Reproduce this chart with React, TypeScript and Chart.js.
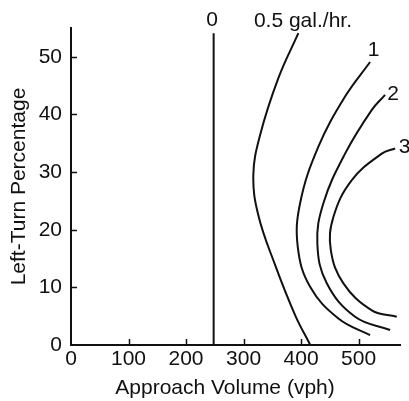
import React, { useEffect, useRef } from "react";
import { Chart, registerables } from "chart.js";

Chart.register(...registerables);

const INK = "#111111";
const FONT_FAMILY = '"Liberation Sans", Arial, Helvetica, sans-serif';

// Axis ticks
const xTicks = [0, 100, 200, 300, 400, 500];
const yTicks = [0, 10, 20, 30, 40, 50];

// Curves: Approach Volume (vph) vs Left-Turn Percentage, per fuel-consumption contour
const curve0X = [248, 248];
const curve0Y = [0, 54.1];

const curveHalfX = [416, 389.6, 354.8, 325.7, 317, 328.7, 360.5, 395.3];
const curveHalfY = [0, 5.2, 13.9, 22.5, 29.5, 36.4, 46.3, 54.1];

const curve1X = [520, 464.9, 415.7, 394.3, 398.3, 430.1, 476.5, 520];
const curve1Y = [1.7, 4.6, 10.1, 17.0, 24.6, 34.4, 43.1, 49.1];

const curve2X = [554.8, 493.9, 444.7, 428.3, 438.8, 476.5, 523, 546.1];
const curve2Y = [2.6, 4.9, 10.7, 17.6, 24.6, 33.2, 40.8, 43.4];

const curve3X = [566.4, 523, 473.6, 451.7, 456.2, 488.2, 540.3, 563.5];
const curve3Y = [4.9, 6.0, 10.7, 16.5, 22.2, 28.6, 33.2, 34.1];

// Curve labels (left edge x value, center y value)
const curveLabels = ["0", "0.5 gal./hr.", "1", "2", "3"];
const labelX = [235, 318, 516, 550, 570];
const labelY = [56.4, 56.1, 51.2, 43.6, 34.3];

const xTitle = "Approach Volume (vph)";
const yTitle = "Left-Turn Percentage";

const toPoints = (xs: number[], ys: number[]) => xs.map((x, i) => ({ x, y: ys[i] }));

const annotPlugin = {
  id: "annot",
  afterDraw(chart: any) {
    const { ctx, chartArea } = chart;
    const x = chart.scales.x;
    const y = chart.scales.y;
    ctx.save();
    ctx.strokeStyle = INK;
    ctx.lineWidth = 1.5;
    yTicks.forEach((v) => {
      if (v === 0) return;
      const py = Math.round(y.getPixelForValue(v)) + 0.5;
      ctx.beginPath();
      ctx.moveTo(chartArea.left, py);
      ctx.lineTo(chartArea.left + 6, py);
      ctx.stroke();
    });
    xTicks.forEach((v) => {
      if (v === 0) return;
      const px = Math.round(x.getPixelForValue(v)) + 0.5;
      ctx.beginPath();
      ctx.moveTo(px, chartArea.bottom);
      ctx.lineTo(px, chartArea.bottom - 6);
      ctx.stroke();
    });
    ctx.fillStyle = INK;
    ctx.font = `21px ${FONT_FAMILY}`;
    ctx.textBaseline = "middle";
    ctx.textAlign = "left";
    curveLabels.forEach((t, i) => {
      ctx.fillText(t, x.getPixelForValue(labelX[i]), y.getPixelForValue(labelY[i]));
    });
    ctx.textAlign = "center";
    ctx.fillText(xTitle, chartArea.left + 154, chartArea.bottom + 43);
    ctx.restore();
  },
};

export default function App() {
  const ref = useRef<HTMLCanvasElement | null>(null);

  useEffect(() => {
    if (!ref.current) return;
    const lineStyle = {
      showLine: true,
      borderColor: INK,
      backgroundColor: INK,
      borderWidth: 2,
      pointRadius: 0,
      tension: 0.4,
      fill: false,
    };
    const chart = new Chart(ref.current, {
      type: "scatter",
      data: {
        datasets: [
          { ...lineStyle, label: "0", data: toPoints(curve0X, curve0Y), tension: 0 },
          { ...lineStyle, label: "0.5", data: toPoints(curveHalfX, curveHalfY) },
          { ...lineStyle, label: "1", data: toPoints(curve1X, curve1Y) },
          { ...lineStyle, label: "2", data: toPoints(curve2X, curve2Y) },
          { ...lineStyle, label: "3", data: toPoints(curve3X, curve3Y) },
        ],
      },
      options: {
        animation: false,
        responsive: false,
        events: [],
        layout: { padding: { top: 28, right: 9, bottom: 0, left: 0 } },
        plugins: {
          legend: { display: false },
          tooltip: { enabled: false },
        },
        scales: {
          x: {
            type: "linear",
            min: 0,
            max: 572,
            grid: { display: false, drawTicks: false },
            border: { display: true, color: INK, width: 2 },
            ticks: {
              color: INK,
              padding: 2,
              font: { family: FONT_FAMILY, size: 21 },
            },
            afterBuildTicks: (scale: any) => {
              scale.ticks = xTicks.map((v) => ({ value: v }));
            },
            afterFit: (scale: any) => {
              scale.height = 56;
            },
          },
          y: {
            type: "linear",
            min: 0,
            max: 55,
            grid: { display: false, drawTicks: false },
            border: { display: true, color: INK, width: 2 },
            ticks: {
              color: INK,
              padding: 9,
              font: { family: FONT_FAMILY, size: 21 },
            },
            title: {
              display: true,
              text: yTitle,
              color: INK,
              padding: { top: 7, bottom: 0 },
              font: { family: FONT_FAMILY, size: 21 },
            },
            afterBuildTicks: (scale: any) => {
              scale.ticks = yTicks.map((v) => ({ value: v }));
            },
            afterFit: (scale: any) => {
              scale.width = 71;
            },
          },
        },
      },
      plugins: [annotPlugin],
    } as any);
    return () => chart.destroy();
  }, []);

  return (
    <div style={{ position: "fixed", left: 0, top: 0, width: 409, height: 401, background: "#fff" }}>
      <canvas ref={ref} width={409} height={401} style={{ display: "block" }} />
    </div>
  );
}
